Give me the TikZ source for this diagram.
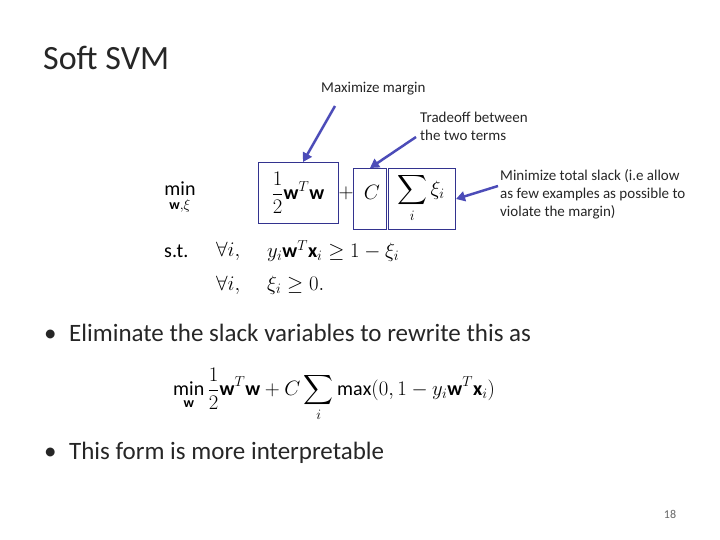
\documentclass[tikz,border=0pt]{standalone}
\usepackage{amsmath}
\usepackage{fontspec}
\setmainfont{Carlito}
\usetikzlibrary{arrows.meta}
\tikzset{
  lbl/.style={inner sep=0pt,anchor=north west,font=\fontsize{15}{18}\selectfont,align=left,text=black!85},
  hbox/.style={draw=blue!45!black!80,line width=1pt},
  callout/.style={draw=blue!60!black!70,line width=2.5pt,-{Triangle[length=9pt,width=10pt]}},
  bul/.style={inner sep=0pt,anchor=west,font=\fontsize{25}{30}\selectfont,text=black!85},
  mth/.style={inner sep=0pt,font=\fontsize{20}{24}\selectfont},
}
\begin{document}
\begin{tikzpicture}[x=1pt,y=-1pt]
\useasboundingbox (0,0) rectangle (720,540);
\clip (0,0) rectangle (720,540);
\node[inner sep=0pt,anchor=west,font=\fontsize{34}{40}\selectfont,text=black!85] (title) at (43,58) {Soft SVM};
\node[lbl] (l1) at (321,82) {Maximize margin};
\node[lbl] (l2) at (420,112) {Tradeoff between\\the two terms};
\node[lbl] (l3) at (500,169) {Minimize total slack (i.e allow\\as few examples as possible to\\violate the margin)};
\node[mth,anchor=center] (min) at (180,198) {$\displaystyle\min_{\mathbf{w},\xi}$};
\node[mth,anchor=center] (t1) at (298,193) {$\displaystyle\frac{1}{2}\mathbf{w}^T\mathbf{w}$};
\node[mth,anchor=center] (plus) at (346,193) {$+$};
\node[mth,anchor=center] (C) at (372,192) {$C$};
\node[mth,anchor=center] (sum) at (421,198) {$\displaystyle\sum_i \xi_i$};
\node[hbox,minimum width=80pt,minimum height=61pt,anchor=north west] (b1) at (258,162) {};
\node[hbox,minimum width=33pt,minimum height=61pt,anchor=north west] (b2) at (353,168) {};
\node[hbox,minimum width=67pt,minimum height=61pt,anchor=north west] (b3) at (388,168) {};
\node[mth,anchor=west] (st) at (164,251) {s.t.};
\node[mth,anchor=west] (fa1) at (216,251) {$\forall i,$};
\node[mth,anchor=west] (c1) at (267,251) {$y_i\mathbf{w}^T\mathbf{x}_i \geq 1-\xi_i$};
\node[mth,anchor=west] (fa2) at (216,285) {$\forall i,$};
\node[mth,anchor=west] (c2) at (267,285) {$\xi_i \geq 0.$};
\coordinate (a1) at (335,106);
\coordinate (a2) at (416,137);
\coordinate (a3) at (498,186);
\draw[callout] (a1) -- (303,162);
\draw[callout] (a2) -- (b2.north);
\draw[callout] (a3) -- (b3.east);
\node[bul] (bu1) at (44,333) {•\hspace{0.5em}Eliminate the slack variables to rewrite this as};
\node[mth,anchor=west] (f2) at (173,395) {$\displaystyle\min_{\mathbf{w}}\frac{1}{2}\mathbf{w}^T\mathbf{w}+C\sum_i\max(0,1-y_i\mathbf{w}^T\mathbf{x}_i)$};
\node[bul] (bu2) at (44,453) {•\hspace{0.5em}This form is more interpretable};
\node[inner sep=0pt,font=\fontsize{12}{14}\selectfont,text=black!60] (pg) at (670,514) {18};
\end{tikzpicture}
\end{document}
